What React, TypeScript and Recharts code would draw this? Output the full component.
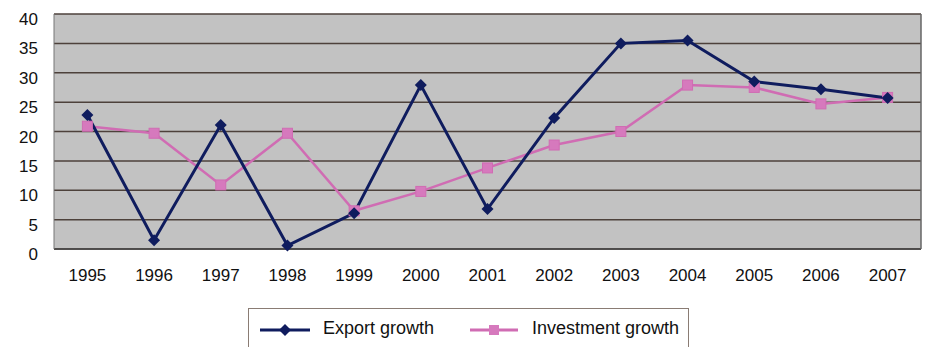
import React from 'react'
import {
  LineChart, Line, XAxis, YAxis, CartesianGrid,
} from 'recharts'

const years = ['1995', '1996', '1997', '1998', '1999', '2000', '2001', '2002', '2003', '2004', '2005', '2006', '2007']
const exportGrowth = [22.8, 1.5, 21.1, 0.6, 6.1, 27.9, 6.8, 22.3, 35.0, 35.5, 28.5, 27.2, 25.7]
const investmentGrowth = [20.9, 19.7, 10.9, 19.7, 6.5, 9.8, 13.8, 17.7, 20.0, 27.9, 27.5, 24.7, 25.8]
const yTicks = [0, 5, 10, 15, 20, 25, 30, 35, 40]

const seriesNames = { export: 'Export growth', investment: 'Investment growth' }
const navy = '#0f1c5e'
const pink = '#d06cb3'

const data = years.map((y, i) => ({
  year: y,
  export: exportGrowth[i],
  investment: investmentGrowth[i],
}))

function Diamond({ cx, cy }: { cx?: number; cy?: number }) {
  if (cx == null || cy == null) return null
  const r = 6
  return <path d={`M${cx},${cy - r}L${cx + r},${cy}L${cx},${cy + r}L${cx - r},${cy}Z`} fill={navy} />
}

function Square({ cx, cy }: { cx?: number; cy?: number }) {
  if (cx == null || cy == null) return null
  const r = 5
  return <rect x={cx - r} y={cy - r} width={r * 2} height={r * 2} fill="#d679bd" stroke={pink} strokeWidth={1} />
}

function YTick({ x, y, payload }: { x?: number; y?: number; payload?: { value: number } }) {
  return (
    <text x={x} y={(y ?? 0) + 5} dy="0.355em" textAnchor="end" fontSize={17} fill="#111" fontFamily="Arial, 'Liberation Sans', sans-serif">
      {payload?.value}
    </text>
  )
}

export default function App() {
  return (
    <div style={{ position: 'fixed', left: 0, top: 0, width: 925, height: 347, background: '#fff', fontFamily: "Arial, 'Liberation Sans', sans-serif", overflow: 'hidden' }}>
      <LineChart width={925} height={347} data={data} margin={{ top: 14, right: 2, left: 0, bottom: 0 }}>
        <CartesianGrid yAxisId="left" vertical={false} fill="#c2c2c2" stroke="#4d413b" strokeWidth={1.5} />
        <XAxis
          dataKey="year"
          height={98}
          padding={{ left: 33.4, right: 33.4 }}
          tickLine={false}
          tickSize={0}
          tickMargin={20}
          axisLine={{ stroke: '#444', strokeWidth: 1.5 }}
          tick={{ fontSize: 17, fill: '#111' }}
          interval={0}
        />
        <YAxis
          yAxisId="left"
          width={54}
          domain={[0, 40]}
          ticks={yTicks}
          tickLine={false}
          tickSize={0}
          tickMargin={16}
          axisLine={{ stroke: '#777', strokeWidth: 1 }}
          tick={<YTick />}
        />
        <YAxis
          yAxisId="right"
          orientation="right"
          width={2}
          domain={[0, 40]}
          tick={false}
          tickLine={false}
          axisLine={{ stroke: '#666', strokeWidth: 1.5 }}
        />
        <Line
          yAxisId="left"
          dataKey="investment"
          name={seriesNames.investment}
          stroke={pink}
          strokeWidth={2.5}
          dot={<Square />}
          isAnimationActive={false}
        />
        <Line
          yAxisId="left"
          dataKey="export"
          name={seriesNames.export}
          stroke={navy}
          strokeWidth={3}
          dot={<Diamond />}
          isAnimationActive={false}
        />
      </LineChart>
      <div style={{ position: 'absolute', left: 248, top: 308, width: 441, height: 45, border: '1px solid #8a7c74', boxSizing: 'border-box', background: '#fff', fontSize: 18, color: '#111' }}>
        <svg width={50} height={12} style={{ position: 'absolute', left: 11, top: 15 }}>
          <line x1={0} y1={6} x2={50} y2={6} stroke={navy} strokeWidth={3} />
          <path d="M25,0L31,6L25,12L19,6Z" fill={navy} />
        </svg>
        <span style={{ position: 'absolute', left: 74, top: 9 }}>{seriesNames.export}</span>
        <svg width={48} height={12} style={{ position: 'absolute', left: 221, top: 15 }}>
          <line x1={0} y1={6} x2={48} y2={6} stroke={pink} strokeWidth={3} />
          <rect x={19} y={1} width={10} height={10} fill="#d679bd" />
        </svg>
        <span style={{ position: 'absolute', left: 283, top: 9 }}>{seriesNames.investment}</span>
      </div>
    </div>
  )
}
